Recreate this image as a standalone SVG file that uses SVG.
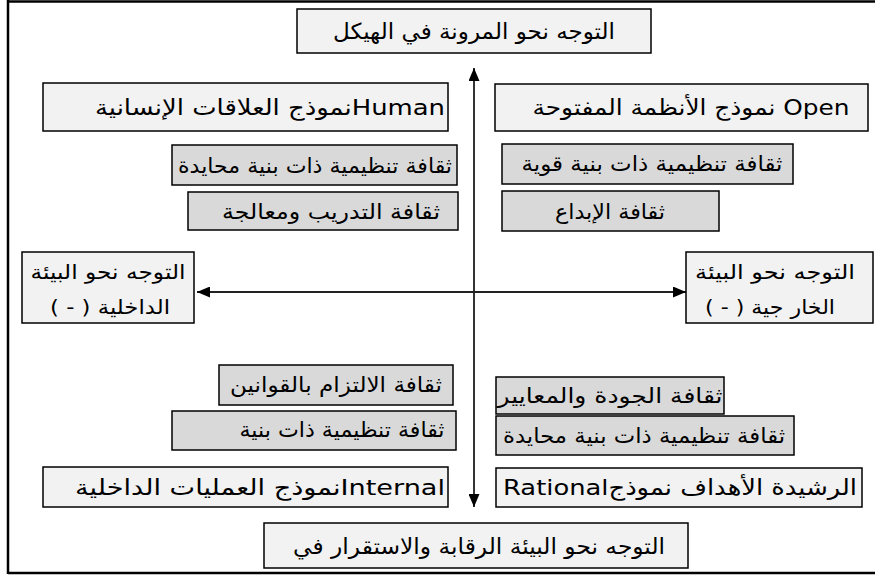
<svg xmlns="http://www.w3.org/2000/svg" width="875" height="576" viewBox="0 0 875 576">
<style>
.frame{stroke:#000;stroke-width:2.5;fill:none}
.box{stroke:#000;stroke-width:1.5}
.light{fill:#f2f2f2}
.gray{fill:#d9d9d9}
text{font-family:"DejaVu Sans","Noto Sans",sans-serif;fill:#000;text-anchor:middle}
.rtl{direction:rtl;unicode-bidi:embed}
.ltr{direction:ltr}
.t1{font-size:22px}
.t2{font-size:21px}
.t3{font-size:20px}
.conn{stroke:#000;stroke-width:1.6;fill:none}
.hconn{stroke:#222;stroke-width:2.2;fill:none}
</style>
<defs>
<marker id="ah" markerUnits="userSpaceOnUse" markerWidth="13" markerHeight="11" refX="13" refY="5.5" orient="auto-start-reverse">
<path d="M0,0 L13,5.5 L0,11 z" fill="#000"/>
</marker>
</defs>
<g id="frame">
<line class="frame" x1="8" y1="1.5" x2="875" y2="1.5"/>
<line class="frame" x1="8" y1="0" x2="8" y2="574"/>
<line class="frame" x1="8" y1="573" x2="875" y2="573"/>
</g>
<g id="connectors">
<line class="conn" x1="474" y1="68" x2="474" y2="507" marker-start="url(#ah)" marker-end="url(#ah)"/>
<line class="hconn" x1="197" y1="292" x2="686" y2="292" marker-start="url(#ah)" marker-end="url(#ah)"/>
</g>
<g id="top">
<rect class="box light" x="297" y="9" width="354" height="44"/>
<text class="rtl t1" x="474" y="39" textLength="282" lengthAdjust="spacingAndGlyphs">التوجه نحو  المرونة في الهيكل</text>
</g>
<g id="human">
<rect class="box light" x="43" y="83" width="405" height="48"/>
<text class="rtl t1" x="270" y="115" textLength="350" lengthAdjust="spacingAndGlyphs">Humanنموذج العلاقات الإنسانية</text>
</g>
<g id="open">
<rect class="box light" x="495" y="84" width="373" height="47"/>
<text class="rtl t1" x="691" y="115" textLength="317" lengthAdjust="spacingAndGlyphs">Open نموذج الأنظمة المفتوحة</text>
</g>
<g id="neutral-left">
<rect class="box gray" x="172" y="145" width="285" height="40"/>
<text class="rtl t2" x="315" y="173" textLength="274" lengthAdjust="spacingAndGlyphs">ثقافة تنظيمية ذات بنية محايدة</text>
</g>
<g id="training">
<rect class="box gray" x="188" y="192" width="270" height="38"/>
<text class="rtl t2" x="331" y="219" textLength="218" lengthAdjust="spacingAndGlyphs">ثقافة التدريب ومعالجة</text>
</g>
<g id="strong">
<rect class="box gray" x="502" y="144" width="291" height="40"/>
<text class="rtl t2" x="652" y="171" textLength="261" lengthAdjust="spacingAndGlyphs">ثقافة تنظيمية ذات بنية قوية</text>
</g>
<g id="creativity">
<rect class="box gray" x="502" y="191" width="217" height="40"/>
<text class="rtl t2" x="610" y="219" textLength="110" lengthAdjust="spacingAndGlyphs">ثقافة الإبداع</text>
</g>
<g id="internal-env">
<rect class="box light" x="22" y="252" width="172" height="71"/>
<text class="rtl t3" x="108" y="279" textLength="155" lengthAdjust="spacingAndGlyphs">التوجه نحو البيئة</text>
<text class="rtl t3" x="110" y="314" textLength="120" lengthAdjust="spacingAndGlyphs">الداخلية ( - )</text>
</g>
<g id="external-env">
<rect class="box light" x="686" y="252" width="187" height="71"/>
<text class="rtl t3" x="775" y="279" textLength="160" lengthAdjust="spacingAndGlyphs">التوجه نحو البيئة</text>
<text class="rtl t3" x="770" y="314" textLength="130" lengthAdjust="spacingAndGlyphs">الخار جية ( - )</text>
</g>
<g id="rules">
<rect class="box gray" x="219" y="365" width="234" height="40"/>
<text class="rtl t2" x="336" y="392" textLength="212" lengthAdjust="spacingAndGlyphs">ثقافة الالتزام بالقوانين</text>
</g>
<g id="structure">
<rect class="box gray" x="172" y="411" width="284" height="39"/>
<text class="rtl t2" x="342" y="437" textLength="205" lengthAdjust="spacingAndGlyphs">ثقافة تنظيمية ذات بنية</text>
</g>
<g id="internal">
<rect class="box light" x="43" y="467" width="405" height="40"/>
<text class="rtl t1" x="260" y="495" textLength="370" lengthAdjust="spacingAndGlyphs">Internalنموذج العمليات الداخلية</text>
</g>
<g id="quality">
<rect class="box gray" x="496" y="377" width="228" height="37"/>
<text class="rtl t2" x="610" y="403" textLength="225" lengthAdjust="spacingAndGlyphs">ثقافة الجودة والمعايير</text>
</g>
<g id="neutral-right">
<rect class="box gray" x="496" y="416" width="298" height="39"/>
<text class="rtl t2" x="644" y="443" textLength="282" lengthAdjust="spacingAndGlyphs">ثقافة تنظيمية ذات بنية محايدة</text>
</g>
<g id="rational">
<rect class="box light" x="496" y="468" width="366" height="39"/>
<text class="ltr t1" x="680" y="495" textLength="354" lengthAdjust="spacingAndGlyphs">Rational&#8206;نموذج&#8206; الأهداف&#8206; الرشيدة</text>
</g>
<g id="bottom">
<rect class="box light" x="264" y="523" width="424" height="45"/>
<text class="rtl t1" x="479" y="554" textLength="372" lengthAdjust="spacingAndGlyphs">التوجه نحو البيئة الرقابة والاستقرار في</text>
</g>
</svg>
